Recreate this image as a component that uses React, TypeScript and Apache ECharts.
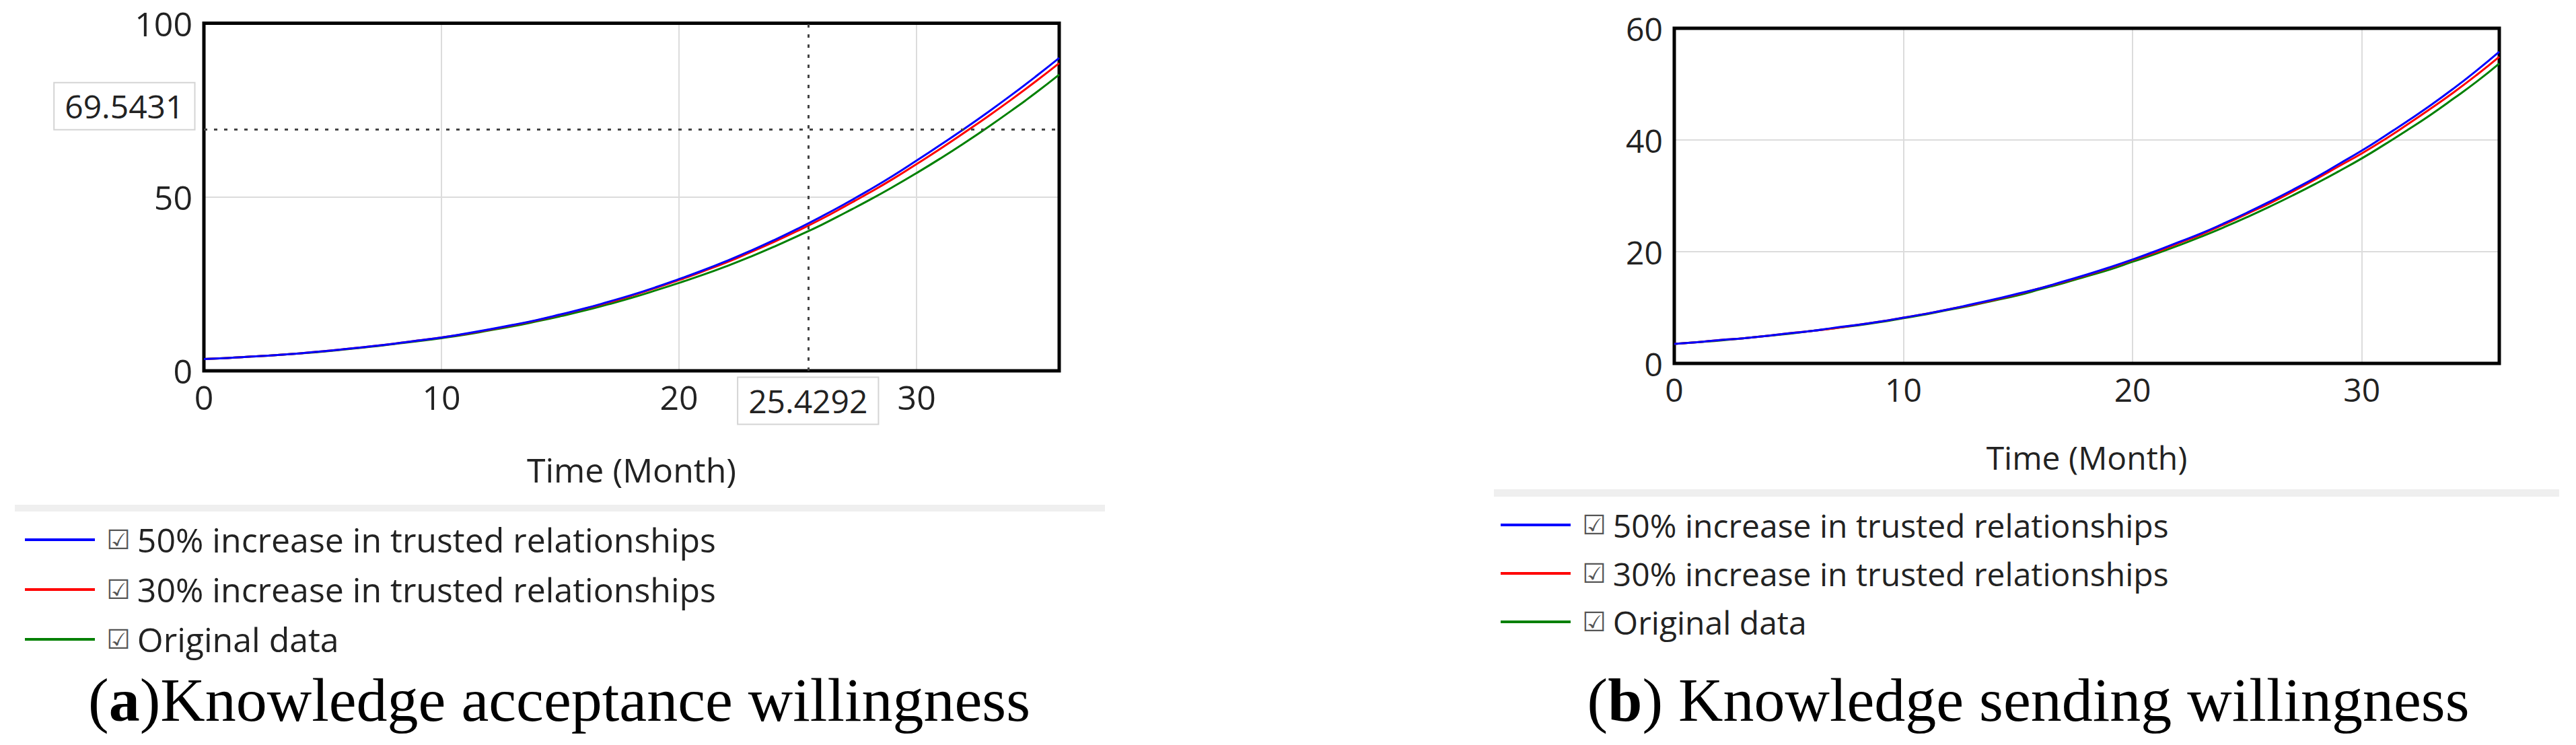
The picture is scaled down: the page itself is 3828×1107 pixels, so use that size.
import React, { useEffect, useRef } from "react";
import * as echarts from "echarts";

const MONTHS = [0, 1, 2, 3, 4, 5, 6, 7, 8, 9, 10, 11, 12, 13, 14, 15, 16, 17, 18, 19, 20, 21, 22, 23, 24, 25, 26, 27, 28, 29, 30, 31, 32, 33, 34, 35, 36];

const SERIES_NAMES = [
  "50% increase in trusted relationships",
  "30% increase in trusted relationships",
  "Original data",
];
const SERIES_COLORS = ["#0000ff", "#ff0000", "#008000"];

// (a) Knowledge acceptance willingness
const A_50 = [3.4, 3.7, 4.1, 4.5, 5.0, 5.6, 6.3, 7.0, 7.8, 8.7, 9.6, 10.7, 11.9, 13.2, 14.6, 16.2, 17.9, 19.8, 21.8, 24.0, 26.4, 28.9, 31.6, 34.5, 37.6, 40.9, 44.4, 48.1, 52.0, 56.1, 60.5, 65.0, 69.6, 74.4, 79.4, 84.6, 90.0];
const A_30 = [3.4, 3.7, 4.1, 4.5, 5.0, 5.6, 6.3, 7.0, 7.8, 8.7, 9.6, 10.6, 11.8, 13.1, 14.5, 16.1, 17.8, 19.6, 21.6, 23.8, 26.1, 28.6, 31.2, 34.1, 37.1, 40.3, 43.7, 47.4, 51.2, 55.2, 59.5, 63.9, 68.5, 73.2, 78.1, 83.2, 88.5];
const A_ORIG = [3.4, 3.7, 4.1, 4.5, 5.0, 5.5, 6.2, 6.9, 7.7, 8.5, 9.4, 10.4, 11.6, 12.8, 14.2, 15.7, 17.3, 19.1, 21.0, 23.1, 25.3, 27.6, 30.1, 32.8, 35.7, 38.8, 42.0, 45.5, 49.1, 52.9, 56.9, 61.1, 65.5, 70.1, 74.9, 79.9, 85.2];

// (b) Knowledge sending willingness
const B_50 = [3.5, 3.8, 4.2, 4.5, 4.9, 5.4, 5.8, 6.4, 6.9, 7.5, 8.2, 8.9, 9.7, 10.6, 11.5, 12.5, 13.5, 14.7, 15.9, 17.2, 18.6, 20.1, 21.7, 23.3, 25.1, 27.0, 29.0, 31.1, 33.3, 35.7, 38.1, 40.7, 43.4, 46.2, 49.2, 52.4, 55.8];
const B_30 = [3.5, 3.8, 4.2, 4.5, 4.9, 5.4, 5.8, 6.3, 6.9, 7.5, 8.2, 8.9, 9.7, 10.5, 11.4, 12.4, 13.5, 14.6, 15.8, 17.1, 18.5, 19.9, 21.5, 23.1, 24.9, 26.8, 28.7, 30.8, 33.0, 35.3, 37.6, 40.1, 42.8, 45.6, 48.5, 51.6, 54.9];
const B_ORIG = [3.5, 3.8, 4.1, 4.5, 4.9, 5.3, 5.8, 6.3, 6.8, 7.4, 8.1, 8.8, 9.6, 10.4, 11.3, 12.2, 13.3, 14.4, 15.6, 16.8, 18.2, 19.6, 21.1, 22.7, 24.4, 26.2, 28.1, 30.1, 32.2, 34.4, 36.7, 39.2, 41.8, 44.5, 47.4, 50.4, 53.7];

// crosshair readout on chart (a)
const CROSS_X = 25.4292;
const CROSS_Y = 69.5431;

const X_MAX = 36;
const A_Y_MAX = 100;
const A_Y_INTERVAL = 50;
const B_Y_MAX = 60;
const B_Y_INTERVAL = 20;

const CAPTION_A = "({b|a})Knowledge acceptance willingness";
const CAPTION_B = "({b|b}) Knowledge sending willingness";
const X_NAME = "Time (Month)";

const SANS = "'Open Sans', 'Noto Sans', sans-serif";
const SERIF = "'Liberation Serif', 'DejaVu Serif', serif";

function pairs(vals: number[]) {
  return MONTHS.map((m, i) => [m, vals[i]]);
}

export default function App() {
  const ref = useRef<HTMLDivElement>(null);

  useEffect(() => {
    document.body.style.margin = "0";
    if (!ref.current) return;
    const chart = echarts.init(ref.current, undefined, { renderer: "svg" });

    const splitLine = {
      show: true,
      showMinLine: false,
      showMaxLine: false,
      lineStyle: { color: "#dcdcdc", width: 2 },
    };

    const mkX = (gridIndex: number, fs: number, nameGap: number) => ({
      type: "value",
      gridIndex,
      min: 0,
      max: X_MAX,
      interval: 10,
      name: X_NAME,
      nameLocation: "middle",
      nameGap,
      nameTextStyle: { fontFamily: SANS, fontSize: fs, color: "#222" },
      axisLine: { show: false },
      axisTick: { show: false },
      axisLabel: { fontFamily: SANS, fontSize: fs, color: "#222", margin: 14, showMaxLabel: false },
      splitLine,
    });
    const mkY = (gridIndex: number, max: number, interval: number, fs: number) => ({
      type: "value",
      gridIndex,
      min: 0,
      max,
      interval,
      axisLine: { show: false },
      axisTick: { show: false },
      axisLabel: { fontFamily: SANS, fontSize: fs, color: "#222", margin: 17 },
      splitLine,
    });

    const lineSeries = (name: string, color: string, data: number[], idx: number, extra: any = {}) => ({
      type: "line",
      name,
      xAxisIndex: idx,
      yAxisIndex: idx,
      data: pairs(data),
      smooth: true,
      showSymbol: false,
      symbol: "none",
      lineStyle: { color, width: 3 },
      itemStyle: { color },
      ...extra,
    });

    const boxLabel = (fs: number) => ({
      show: true,
      fontFamily: SANS,
      fontSize: fs,
      color: "#222",
      backgroundColor: "#fff",
      borderColor: "#d4d4d4",
      borderWidth: 2,
      padding: [6, 15, 6, 15],
      lineHeight: 56,
    });

    const crossExtra = {
      markLine: {
        silent: true,
        symbol: ["none", "none"],
        label: { show: false },
        lineStyle: { type: [5, 10], color: "#444", width: 3 },
        data: [{ xAxis: CROSS_X }, { yAxis: CROSS_Y }],
      },
      markPoint: {
        silent: true,
        symbol: "circle",
        symbolSize: 1,
        itemStyle: { color: "rgba(0,0,0,0)" },
        data: [
          {
            coord: [CROSS_X, 0],
            value: CROSS_X,
            label: { ...boxLabel(48), position: "bottom", distance: 10, formatter: String(CROSS_X) },
          },
          {
            coord: [0, CROSS_Y],
            value: CROSS_Y,
            label: { ...boxLabel(48), position: "left", distance: 14, offset: [0, -34], formatter: String(CROSS_Y) },
          },
        ],
      },
    };

    const legendCfg = (left: number, top: number, fs: number, lh: number, gap: number) => ({
      orient: "vertical",
      left,
      top,
      selectedMode: false,
      icon: "rect",
      itemWidth: 104,
      itemHeight: 4,
      itemGap: gap,
      data: SERIES_NAMES,
      formatter: (n: string) => `{box|\u2611}{t|${n}}`,
      textStyle: {
        fontFamily: SANS,
        fontSize: fs,
        color: "#222",
        rich: {
          box: { fontFamily: "'DejaVu Sans'", fontSize: 40, color: "#555", padding: [0, 10, 0, 12], lineHeight: lh },
          t: { fontFamily: SANS, fontSize: fs, color: "#222", lineHeight: lh },
        },
      },
    });

    const gridBase = { show: true, borderColor: "#000", borderWidth: 5, backgroundColor: "transparent", containLabel: false, z: 3 };

    const option: any = {
      animation: false,
      backgroundColor: "#fff",
      grid: [
        { ...gridBase, left: 303, top: 34.5, width: 1271, height: 516.5 },
        { ...gridBase, left: 2488, top: 42, width: 1226, height: 498 },
      ],
      xAxis: [mkX(0, 50, 122), mkX(1, 48, 115)],
      yAxis: [mkY(0, A_Y_MAX, A_Y_INTERVAL, 50), mkY(1, B_Y_MAX, B_Y_INTERVAL, 48)],
      legend: [legendCfg(32, 772, 50, 50, 24), legendCfg(2225, 751, 48, 50, 24)],
      series: [
        lineSeries(SERIES_NAMES[2], SERIES_COLORS[2], A_ORIG, 0),
        lineSeries(SERIES_NAMES[1], SERIES_COLORS[1], A_30, 0),
        lineSeries(SERIES_NAMES[0], SERIES_COLORS[0], A_50, 0, crossExtra),
        lineSeries(SERIES_NAMES[2], SERIES_COLORS[2], B_ORIG, 1),
        lineSeries(SERIES_NAMES[1], SERIES_COLORS[1], B_30, 1),
        lineSeries(SERIES_NAMES[0], SERIES_COLORS[0], B_50, 1),
      ],
      graphic: [
        { type: "rect", left: 22, top: 750, shape: { width: 1620, height: 10 }, style: { fill: "#efefef" }, silent: true },
        { type: "rect", left: 2220, top: 727, shape: { width: 1583, height: 11 }, style: { fill: "#efefef" }, silent: true },
        {
          type: "text",
          x: 831,
          y: 1040,
          silent: true,
          style: {
            text: CAPTION_A,
            fontFamily: SERIF,
            fontSize: 92,
            fill: "#000",
            align: "center",
            verticalAlign: "middle",
            rich: { b: { fontFamily: SERIF, fontSize: 92, fontWeight: "bold", fill: "#000" } },
          },
        },
        {
          type: "text",
          x: 3014,
          y: 1040,
          silent: true,
          style: {
            text: CAPTION_B,
            fontFamily: SERIF,
            fontSize: 92,
            fill: "#000",
            align: "center",
            verticalAlign: "middle",
            rich: { b: { fontFamily: SERIF, fontSize: 92, fontWeight: "bold", fill: "#000" } },
          },
        },
      ],
    };

    chart.setOption(option);
    return () => chart.dispose();
  }, []);

  return <div ref={ref} style={{ width: 3828, height: 1107 }} />;
}
